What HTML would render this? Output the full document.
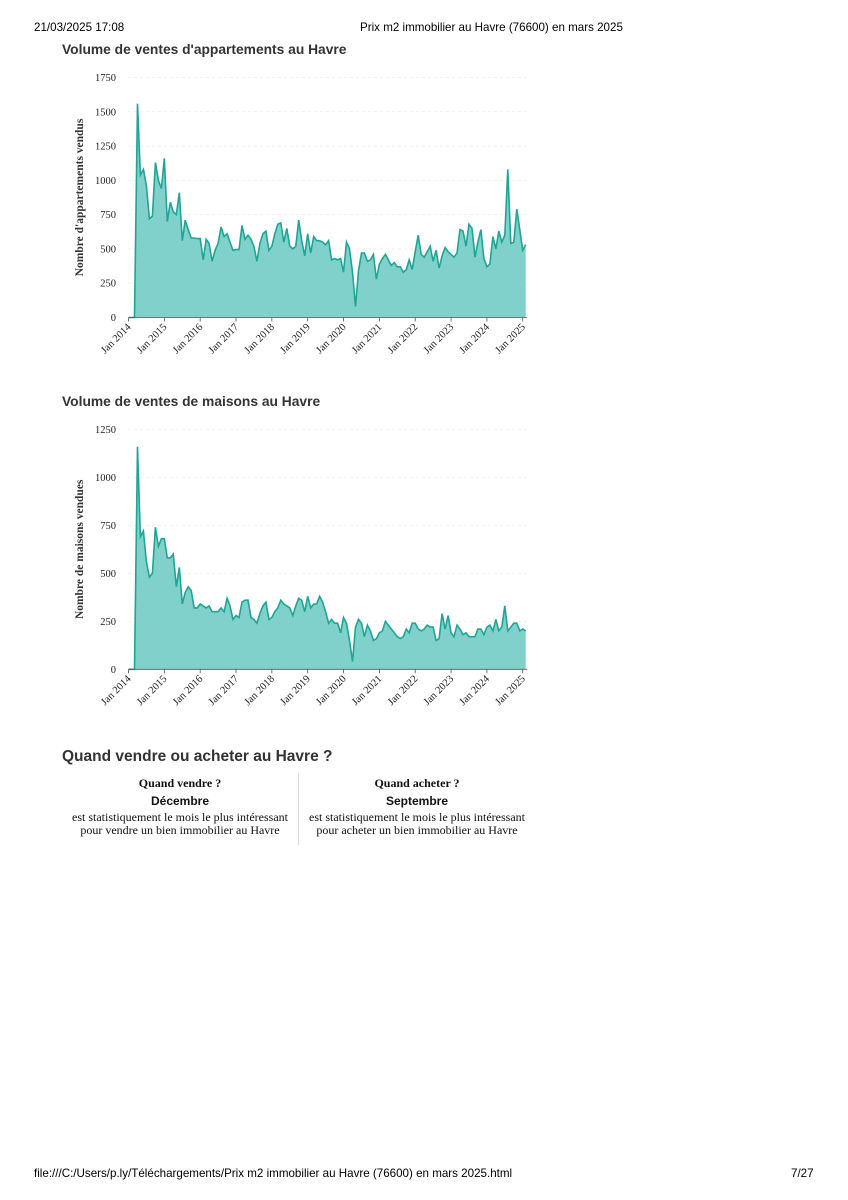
<!DOCTYPE html>
<html><head><meta charset="utf-8"><style>
body{margin:0;width:848px;height:1200px;background:#fff;position:relative;font-family:"Liberation Sans",sans-serif;}
.a{position:absolute;white-space:nowrap}
.t{font-weight:bold;color:#333;font-size:13.8px}
.col{position:absolute;top:776px;width:236px;text-align:center;font-family:"Liberation Serif",serif;color:#111}
</style></head><body>
<div class="a" style="left:34px;top:21px;font-size:11.6px">21/03/2025 17:08</div>
<div class="a" style="left:360px;top:21px;font-size:11.6px">Prix m2 immobilier au Havre (76600) en mars 2025</div>
<div class="a t" style="left:62px;top:42px">Volume de ventes d'appartements au Havre</div>
<div class="a t" style="left:62px;top:394px">Volume de ventes de maisons au Havre</div>
<svg id="s" width="848" height="1200" style="position:absolute;left:0;top:0"></svg>
<div class="a" style="left:62px;top:748px;font-size:15.5px;font-weight:bold;color:#333">Quand vendre ou acheter au Havre ?</div>
<div style="position:absolute;left:298px;top:773px;width:1px;height:72px;background:#ddd"></div>
<div class="col" style="left:62px"><div style="font-weight:bold;font-size:12px">Quand vendre ?</div><div style="font-family:'Liberation Sans',sans-serif;font-weight:bold;font-size:12px;margin-top:3px">Décembre</div><div style="font-size:12px;line-height:13px;margin-top:3px">est statistiquement le mois le plus intéressant<br>pour vendre un bien immobilier au Havre</div></div>
<div class="col" style="left:299px"><div style="font-weight:bold;font-size:12px">Quand acheter ?</div><div style="font-family:'Liberation Sans',sans-serif;font-weight:bold;font-size:12px;margin-top:3px">Septembre</div><div style="font-size:12px;line-height:13px;margin-top:3px">est statistiquement le mois le plus intéressant<br>pour acheter un bien immobilier au Havre</div></div>
<div class="a" style="left:34px;top:1167px;font-size:11.6px">file:///C:/Users/p.ly/Téléchargements/Prix m2 immobilier au Havre (76600) en mars 2025.html</div>
<div class="a" style="left:791px;top:1167px;font-size:11.6px">7/27</div>
<script>
var d1=[0,0,0,1560,1040,1080,960,720,740,1130,1000,940,1160,700,840,770,750,910,560,710,640,580,580,575,575,420,570,540,410,490,540,660,590,610,550,490,495,495,670,570,600,570,520,410,540,610,630,490,520,610,680,690,550,650,520,500,520,710,560,450,610,470,590,560,560,550,530,560,420,430,420,430,330,550,500,330,80,340,470,470,410,420,460,280,390,430,460,420,380,400,370,370,330,350,420,350,480,600,460,440,480,520,410,490,360,450,510,480,460,440,470,640,630,520,680,650,440,550,640,430,370,390,590,500,630,550,600,1080,540,550,790,640,490,530,560];
var d2=[0,0,0,1160,690,720,560,480,500,740,640,680,680,580,580,600,430,530,340,400,430,410,320,320,340,330,320,330,300,300,300,320,300,370,330,260,280,270,350,360,360,270,260,240,290,330,350,260,270,300,320,360,340,330,320,280,330,370,360,300,380,320,340,340,380,350,300,240,260,240,240,190,270,240,150,40,220,260,240,170,230,200,150,160,190,200,250,230,210,190,170,160,170,210,190,240,240,210,200,210,230,220,220,150,160,290,210,280,190,170,230,210,180,190,170,170,170,210,210,180,220,230,200,260,200,220,330,200,220,240,240,200,210,200];
var s='',X0=128.5,M=35.84/12;
function chart(d,y0,max,step,lab){
 var k=240/max,n=Math.min(d.length,134);
 for(var v=0;v<=max;v+=step){var y=y0-v*k;
  if(v>0)s+='<line x1="128" x2="527" y1="'+y+'" y2="'+y+'" stroke="#eeeeee" stroke-dasharray="3,3" stroke-width="0.8"/>';
  s+='<text x="116" y="'+(y+3.5)+'" text-anchor="end" font-family="Liberation Serif,serif" font-size="10.5" fill="#222">'+v+'</text>';}
 var p='';for(var i=0;i<n;i++){p+=(i?'L':'M')+(X0+i*M).toFixed(1)+','+(y0-d[i]*k).toFixed(1);}
 var xe=(X0+(n-1)*M).toFixed(1);
 s+='<path d="'+p+'L'+xe+','+y0+'L'+X0+','+y0+'Z" fill="#80d1cb"/>';
 s+='<path d="'+p+'" fill="none" stroke="#1fa595" stroke-width="1.6"/>';
 s+='<line x1="'+X0+'" x2="527" y1="'+y0+'" y2="'+y0+'" stroke="#555" stroke-width="0.8"/>';
 for(var yr=0;yr<=11;yr++){var x=X0+yr*35.84;
  s+='<line x1="'+x+'" x2="'+x+'" y1="'+y0+'" y2="'+(y0+4)+'" stroke="#555" stroke-width="0.8"/>';
  s+='<text transform="translate('+(x+3)+','+(y0+10)+') rotate(-45)" text-anchor="end" font-family="Liberation Serif,serif" font-size="10.5" fill="#222">Jan '+(2014+yr)+'</text>';}
 s+='<text transform="translate(83,'+(y0-120)+') rotate(-90)" text-anchor="middle" font-family="Liberation Serif,serif" font-weight="bold" font-size="11.5" fill="#333">'+lab+'</text>';
}
chart(d1,317.5,1750,250,"Nombre d'appartements vendus");
chart(d2,669.3,1250,250,"Nombre de maisons vendues");
document.getElementById('s').innerHTML=s;
</script>
</body></html>
